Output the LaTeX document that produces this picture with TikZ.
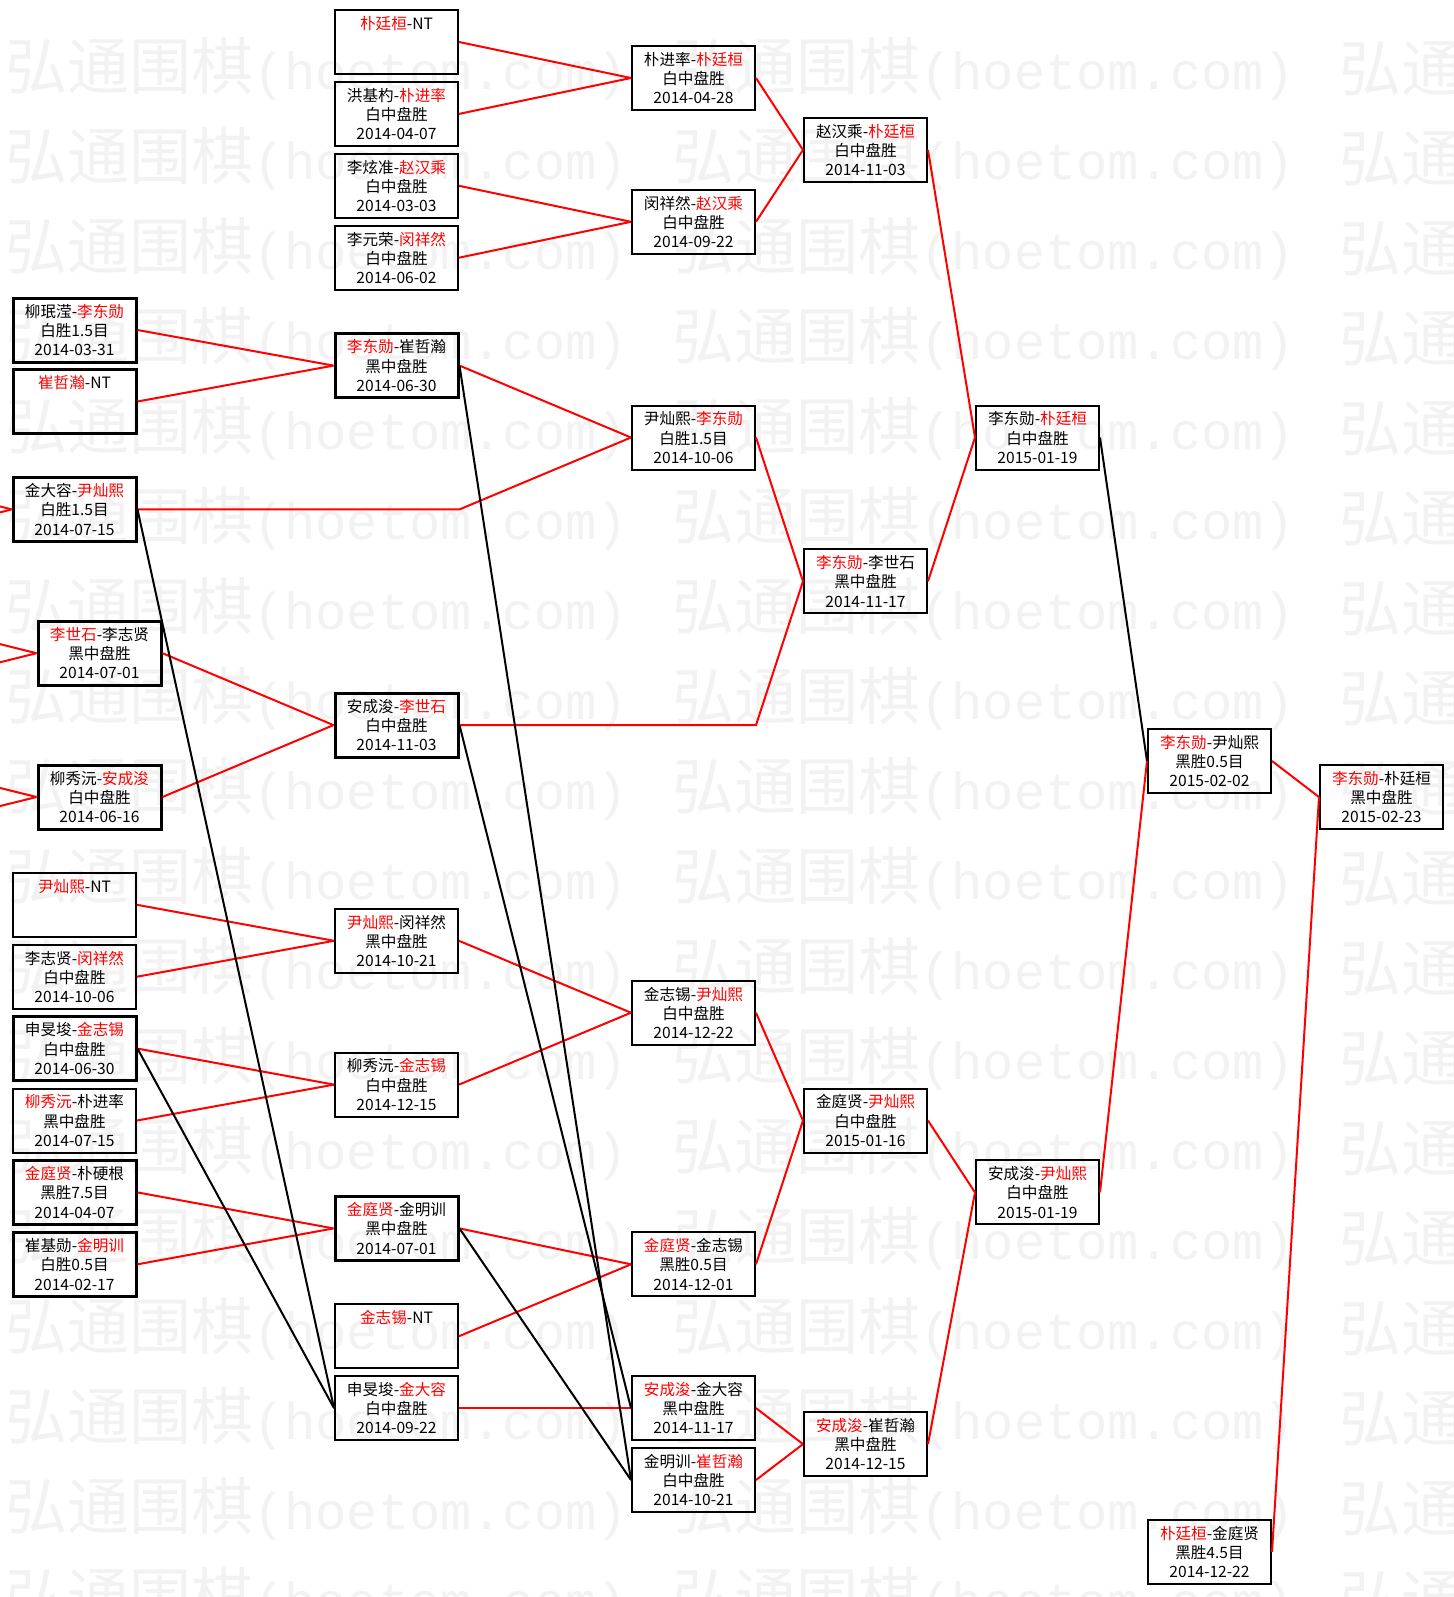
\documentclass[tikz,border=0pt]{standalone}
\usepackage{fontspec}
\setmainfont{Noto Sans CJK SC}
\newfontfamily\wmlatin{Liberation Mono}
\newcommand{\winr}[1]{\textcolor{red}{#1}}
\newcommand{\gamefont}{\fontsize{7.8}{9.6}\selectfont}
\tikzset{
  game/.style={draw=black,line width=1pt,minimum width=61.5pt,minimum height=32pt,inner sep=0pt,align=center,font=\gamefont},
  seed/.style={game,line width=1.5pt},
  winline/.style={red,line width=1pt},
  loseline/.style={black,line width=1pt},
  wmark/.style={anchor=west,text=black!5,inner sep=0pt,font=\fontsize{31}{31}\selectfont}
}
\begin{document}
\begin{tikzpicture}[x=0.5pt,y=-0.5pt]
\useasboundingbox (0,0) rectangle (1453,1597);
\clip (0,0) rectangle (1453,1597);
%watermark
\foreach \j in {0,...,17}{
  \node[wmark] (wm\j a) at (5,69+90*\j) {弘通围棋{\wmlatin\fontsize{26}{26}\selectfont(hoetom.com)}};
  \node[wmark] (wm\j b) at (672,69+90*\j) {弘通围棋{\wmlatin\fontsize{26}{26}\selectfont(hoetom.com)}};
  \node[wmark] (wm\j c) at (1339,69+90*\j) {弘通};
}
% first column
\node[seed] (M0_1) at (74.5,330) {柳珉滢-\winr{李东勋}\\白胜1.5目\\2014-03-31};
\node[seed] (M0_2) at (74.5,401.5) {\winr{崔哲瀚}-NT\\\mbox{}\\\mbox{}};
\node[seed] (M0_3) at (74.5,509.4) {金大容-\winr{尹灿熙}\\白胜1.5目\\2014-07-15};
\node[seed] (M0_4) at (99.5,653.2) {\winr{李世石}-李志贤\\黑中盘胜\\2014-07-01};
\node[seed] (M0_5) at (99.5,797) {柳秀沅-\winr{安成浚}\\白中盘胜\\2014-06-16};
\node[game] (M0_6) at (74.5,904.8) {\winr{尹灿熙}-NT\\\mbox{}\\\mbox{}};
\node[game] (M0_7) at (74.5,976.7) {李志贤-\winr{闵祥然}\\白中盘胜\\2014-10-06};
\node[seed] (M0_8) at (74.5,1048.6) {申旻埈-\winr{金志锡}\\白中盘胜\\2014-06-30};
\node[game] (M0_9) at (74.5,1120.5) {\winr{柳秀沅}-朴进率\\黑中盘胜\\2014-07-15};
\node[seed] (M0_10) at (74.5,1192.4) {\winr{金庭贤}-朴硬根\\黑胜7.5目\\2014-04-07};
\node[seed] (M0_11) at (74.5,1264.3) {崔基勋-\winr{金明训}\\白胜0.5目\\2014-02-17};
% second column
\node[game] (M1_1) at (396.5,42) {\winr{朴廷桓}-NT\\\mbox{}\\\mbox{}};
\node[game] (M1_2) at (396.5,113.9) {洪基杓-\winr{朴进率}\\白中盘胜\\2014-04-07};
\node[game] (M1_3) at (396.5,185.8) {李炫准-\winr{赵汉乘}\\白中盘胜\\2014-03-03};
\node[game] (M1_4) at (396.5,257.7) {李元荣-\winr{闵祥然}\\白中盘胜\\2014-06-02};
\node[seed] (M1_5) at (396.5,365.6) {\winr{李东勋}-崔哲瀚\\黑中盘胜\\2014-06-30};
\node[seed] (M1_6) at (396.5,725.1) {安成浚-\winr{李世石}\\白中盘胜\\2014-11-03};
\node[game] (M1_7) at (396.5,940.8) {\winr{尹灿熙}-闵祥然\\黑中盘胜\\2014-10-21};
\node[game] (M1_8) at (396.5,1084.6) {柳秀沅-\winr{金志锡}\\白中盘胜\\2014-12-15};
\node[seed] (M1_9) at (396.5,1228.4) {\winr{金庭贤}-金明训\\黑中盘胜\\2014-07-01};
\node[game] (M1_10) at (396.5,1336.2) {\winr{金志锡}-NT\\\mbox{}\\\mbox{}};
\node[game] (M1_11) at (396.5,1408.1) {申旻埈-\winr{金大容}\\白中盘胜\\2014-09-22};
% third column
\node[game] (M2_1) at (693.5,78) {朴进率-\winr{朴廷桓}\\白中盘胜\\2014-04-28};
\node[game] (M2_2) at (693.5,221.8) {闵祥然-\winr{赵汉乘}\\白中盘胜\\2014-09-22};
\node[game] (M2_3) at (693.5,437.5) {尹灿熙-\winr{李东勋}\\白胜1.5目\\2014-10-06};
\node[game] (M2_4) at (693.5,1012.7) {金志锡-\winr{尹灿熙}\\白中盘胜\\2014-12-22};
\node[game] (M2_5) at (693.5,1264.3) {\winr{金庭贤}-金志锡\\黑胜0.5目\\2014-12-01};
\node[game] (M2_6) at (693.5,1408.1) {\winr{安成浚}-金大容\\黑中盘胜\\2014-11-17};
\node[game] (M2_7) at (693.5,1480) {金明训-\winr{崔哲瀚}\\白中盘胜\\2014-10-21};
% fourth column
\node[game] (M3_1) at (865.5,149.9) {赵汉乘-\winr{朴廷桓}\\白中盘胜\\2014-11-03};
\node[game] (M3_2) at (865.5,581.3) {\winr{李东勋}-李世石\\黑中盘胜\\2014-11-17};
\node[game] (M3_3) at (865.5,1120.5) {金庭贤-\winr{尹灿熙}\\白中盘胜\\2015-01-16};
\node[game] (M3_4) at (865.5,1444.1) {\winr{安成浚}-崔哲瀚\\黑中盘胜\\2014-12-15};
% last columns
\node[game] (M4_1) at (1037.5,437.5) {李东勋-\winr{朴廷桓}\\白中盘胜\\2015-01-19};
\node[game] (M4_2) at (1037.5,1192.4) {安成浚-\winr{尹灿熙}\\白中盘胜\\2015-01-19};
\node[game] (M5_1) at (1209.5,761) {\winr{李东勋}-尹灿熙\\黑胜0.5目\\2015-02-02};
\node[game] (M5_2) at (1209.5,1551.9) {\winr{朴廷桓}-金庭贤\\黑胜4.5目\\2014-12-22};
\node[game] (M6_1) at (1381.5,797) {\winr{李东勋}-朴廷桓\\黑中盘胜\\2015-02-23};
% cut off on the left
\coordinate (in3a) at (-40,496);
\coordinate (in3b) at (-40,522.8);
\coordinate (in4a) at (-40,634.2);
\coordinate (in4b) at (-40,672.2);
\coordinate (in5a) at (-40,778);
\coordinate (in5b) at (-40,816);
\draw[winline] (in3a) -- (M0_3.west);
\draw[winline] (in3b) -- (M0_3.west);
\draw[winline] (in4a) -- (M0_4.west);
\draw[winline] (in4b) -- (M0_4.west);
\draw[winline] (in5a) -- (M0_5.west);
\draw[winline] (in5b) -- (M0_5.west);
% winners
\draw[winline] (M1_1.east) -- (M2_1.west);
\draw[winline] (M1_2.east) -- (M2_1.west);
\draw[winline] (M1_3.east) -- (M2_2.west);
\draw[winline] (M1_4.east) -- (M2_2.west);
\draw[winline] (M2_1.east) -- (M3_1.west);
\draw[winline] (M2_2.east) -- (M3_1.west);
\draw[winline] (M3_1.east) -- (M4_1.west);
\draw[winline] (M0_1.east) -- (M1_5.west);
\draw[winline] (M0_2.east) -- (M1_5.west);
\draw[winline] (M1_5.east) -- (M2_3.west);
\draw[winline] (M0_3.east) -- (M0_3.east -| M1_5.east) -- (M2_3.west);
\draw[winline] (M2_3.east) -- (M3_2.west);
\draw[winline] (M0_4.east) -- (M1_6.west);
\draw[winline] (M0_5.east) -- (M1_6.west);
\draw[winline] (M1_6.east) -- (M1_6.east -| M2_3.east) -- (M3_2.west);
\draw[winline] (M3_2.east) -- (M4_1.west);
\draw[winline] (M0_6.east) -- (M1_7.west);
\draw[winline] (M0_7.east) -- (M1_7.west);
\draw[winline] (M0_8.east) -- (M1_8.west);
\draw[winline] (M0_9.east) -- (M1_8.west);
\draw[winline] (M1_7.east) -- (M2_4.west);
\draw[winline] (M1_8.east) -- (M2_4.west);
\draw[winline] (M0_10.east) -- (M1_9.west);
\draw[winline] (M0_11.east) -- (M1_9.west);
\draw[winline] (M1_9.east) -- (M2_5.west);
\draw[winline] (M1_10.east) -- (M2_5.west);
\draw[winline] (M1_11.east) -- (M2_6.west);
\draw[winline] (M2_4.east) -- (M3_3.west);
\draw[winline] (M2_5.east) -- (M3_3.west);
\draw[winline] (M2_6.east) -- (M3_4.west);
\draw[winline] (M2_7.east) -- (M3_4.west);
\draw[winline] (M3_3.east) -- (M4_2.west);
\draw[winline] (M3_4.east) -- (M4_2.west);
\draw[winline] (M4_2.east) -- (M5_1.west);
\draw[winline] (M5_1.east) -- (M6_1.west);
\draw[winline] (M5_2.east) -- (M6_1.west);
% losers dropping down
\draw[loseline] (M0_3.east) -- (M1_11.west);
\draw[loseline] (M0_8.east) -- (M1_11.west);
\draw[loseline] (M1_5.east) -- (M2_7.west);
\draw[loseline] (M1_6.east) -- (M2_6.west);
\draw[loseline] (M1_9.east) -- (M2_7.west);
\draw[loseline] (M4_1.east) -- (M5_1.west);
\end{tikzpicture}
\end{document}
